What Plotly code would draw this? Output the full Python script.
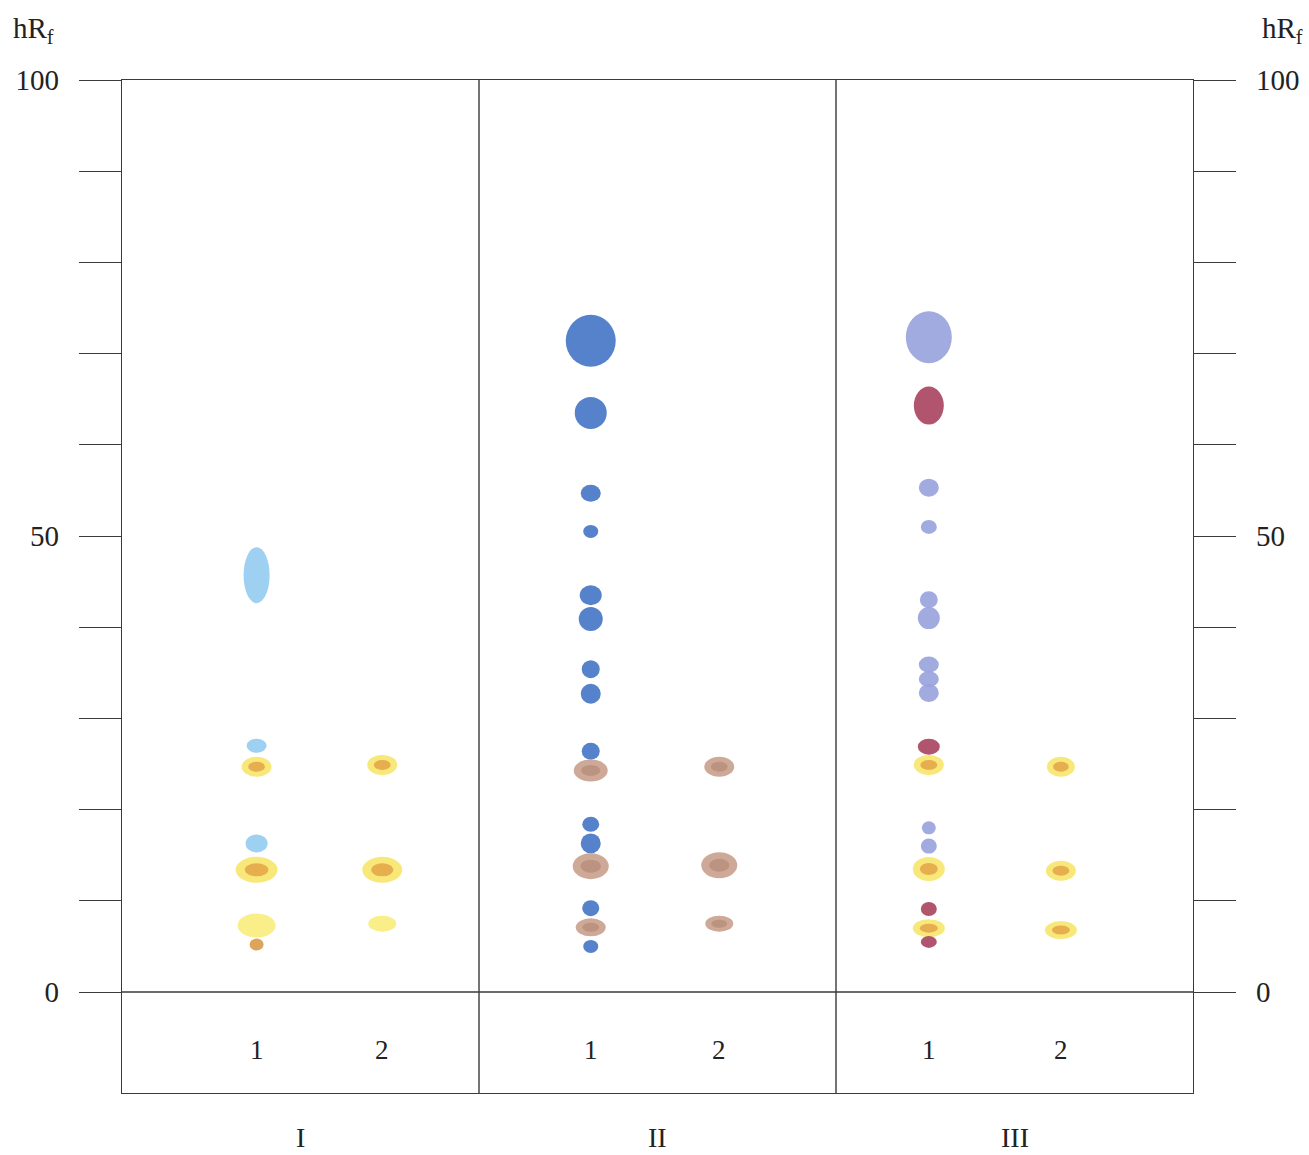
import plotly.graph_objects as go

# ---------------- data ----------------
panels = ["I", "II", "III"]
panel_centers = [0.5, 1.5, 2.5]
lane_labels = ["1", "2", "1", "2", "1", "2"]
lane_pos = [0.377, 0.729, 1.313, 1.673, 2.26, 2.63]
hrf_ticks = [0, 50, 100]
hrf_ticktext = ["0", "50", "100"]
hrf_minor = [10, 20, 30, 40, 60, 70, 80, 90]

# spots: lane index, hRf value, colour class
spot_lane = [0, 0, 0, 0, 0, 0, 0,
             1, 1, 1,
             2, 2, 2, 2, 2, 2, 2, 2, 2, 2, 2, 2, 2, 2, 2, 2,
             3, 3, 3,
             4, 4, 4, 4, 4, 4, 4, 4, 4, 4, 4, 4, 4, 4, 4, 4, 4,
             5, 5, 5]
spot_hrf = [45.7, 27.0, 24.7, 16.3, 13.4, 7.3, 5.2,
            24.9, 13.4, 7.5,
            71.4, 63.5, 54.7, 50.5, 43.5, 40.9, 35.4, 32.7, 26.4, 24.3, 18.4, 16.3, 13.8, 9.2, 7.1, 5.0,
            24.7, 13.9, 7.5,
            71.8, 64.3, 55.3, 51.0, 43.0, 41.0, 35.9, 34.3, 32.8, 26.9, 24.9, 18.0, 16.0, 13.5, 9.1, 7.0, 5.5,
            24.7, 13.3, 6.8]
spot_kind = ["sky", "sky", "yellow", "sky", "yellow", "pale", "orange",
             "yellow", "yellow", "pale",
             "blue", "blue", "blue", "blue", "blue", "blue", "blue", "blue", "blue", "tan", "blue", "blue", "tan", "blue", "tan", "blue",
             "tan", "tan", "tan",
             "peri", "crimson", "peri", "peri", "peri", "peri", "peri", "peri", "peri", "crimson", "yellow", "peri", "peri", "yellow", "crimson", "yellow", "crimson",
             "yellow", "yellow", "yellow"]

# ---------------- styles ----------------
spot_w = [26, 20, 30, 22, 42, 38, 14,
          30, 40, 28,
          50, 32, 20, 15, 22, 24, 18, 20, 18, 34, 17, 20, 36, 17, 30, 15,
          30, 36, 28,
          46, 30, 20, 16, 18, 22, 20, 20, 20, 22, 30, 14, 16, 32, 16, 32, 16,
          28, 30, 32]
spot_h = [56, 14, 20, 18, 26, 24, 12,
          20, 26, 16,
          52, 32, 17, 13, 20, 24, 18, 20, 17, 22, 15, 20, 26, 16, 18, 13,
          20, 26, 16,
          52, 38, 18, 14, 17, 22, 16, 16, 18, 16, 20, 13, 15, 24, 14, 18, 12,
          20, 20, 18]
fill = {"sky": "#94cbf0", "blue": "#4474c6", "tan": "#c9a08c", "yellow": "#f7e56a",
        "pale": "#f9ec7c", "orange": "#d99a4a", "peri": "#97a2dc", "crimson": "#a8425f"}
core = {"yellow": "#e3a346", "tan": "#b88f7c"}
LINE = "#3a3a3a"
FONT = "Liberation Serif"

fig = go.Figure()

xs = [lane_pos[i] for i in spot_lane]
fig.add_trace(go.Scatter(x=xs, y=spot_hrf, mode="markers",
                         marker=dict(size=1, opacity=0), hoverinfo="y", showlegend=False))
fig.add_trace(go.Scatter(x=xs, y=spot_hrf, mode="markers", yaxis="y2",
                         marker=dict(size=1, opacity=0), hoverinfo="skip", showlegend=False))

shapes = []
for x, y, k, w, h in zip(xs, spot_hrf, spot_kind, spot_w, spot_h):
    shapes.append(dict(type="circle", xref="x", yref="y", xsizemode="pixel", ysizemode="pixel",
                       xanchor=x, yanchor=y, x0=-w / 2, x1=w / 2, y0=-h / 2, y1=h / 2,
                       fillcolor=fill[k], opacity=0.9, line=dict(width=0)))
    if k in core:
        shapes.append(dict(type="circle", xref="x", yref="y", xsizemode="pixel", ysizemode="pixel",
                           xanchor=x, yanchor=y, x0=-w * 0.28, x1=w * 0.28, y0=-h * 0.25, y1=h * 0.25,
                           fillcolor=core[k], opacity=0.85, line=dict(width=0)))

# plate divisions and start line
for b in [1, 2]:
    shapes.append(dict(type="line", xref="x", yref="paper", x0=b, x1=b, y0=0, y1=1,
                       line=dict(color=LINE, width=1.4)))
shapes.append(dict(type="line", xref="paper", yref="y", x0=0, x1=1, y0=0, y1=0,
                   line=dict(color=LINE, width=1.4)))

annotations = []
for lp, lt in zip(lane_pos, lane_labels):
    annotations.append(dict(x=lp, y=-6.4, xref="x", yref="y", text=lt, showarrow=False,
                            font=dict(family=FONT, size=27, color="#222")))
for pc, pt in zip(panel_centers, panels):
    annotations.append(dict(x=pc, y=-0.044, xref="x", yref="paper", text=pt, showarrow=False,
                            yanchor="middle",
                            font=dict(family=FONT, size=28, color="#222")))
for xp in [-0.1035, 1.0625]:
    annotations.append(dict(x=xp, y=1.049, xref="paper", yref="paper", text="hR<sub>f</sub>",
                            showarrow=False, xanchor="left", yanchor="middle",
                            font=dict(family=FONT, size=29, color="#222")))

yax = dict(range=[-11.07, 100], showline=True, linecolor=LINE, linewidth=1.4,
           ticks="outside", ticklen=42, tickwidth=1.4, tickcolor=LINE,
           tickvals=hrf_ticks, ticktext=hrf_ticktext, showgrid=False, zeroline=False,
           minor=dict(tickvals=hrf_minor, ticks="outside", ticklen=42,
                      tickwidth=1.4, tickcolor=LINE, showgrid=False),
           tickfont=dict(family=FONT, size=29, color="#222"), ticklabelstandoff=14,
           automargin=False, fixedrange=True)

fig.update_layout(
    width=1309, height=1155,
    margin=dict(l=122, r=116, t=80, b=62),
    paper_bgcolor="white", plot_bgcolor="white",
    xaxis=dict(range=[0, 3], showline=True, mirror=True, linecolor=LINE, linewidth=1.4,
               showticklabels=False, ticks="", showgrid=False, zeroline=False,
               automargin=False),
    yaxis=yax,
    yaxis2=dict(yax, overlaying="y", side="right"),
    shapes=shapes,
    annotations=annotations,
    showlegend=False,
)

fig.write_html("out.html", config={"displayModeBar": False},
               post_script="document.body.style.margin='0';document.body.style.overflow='hidden';")
